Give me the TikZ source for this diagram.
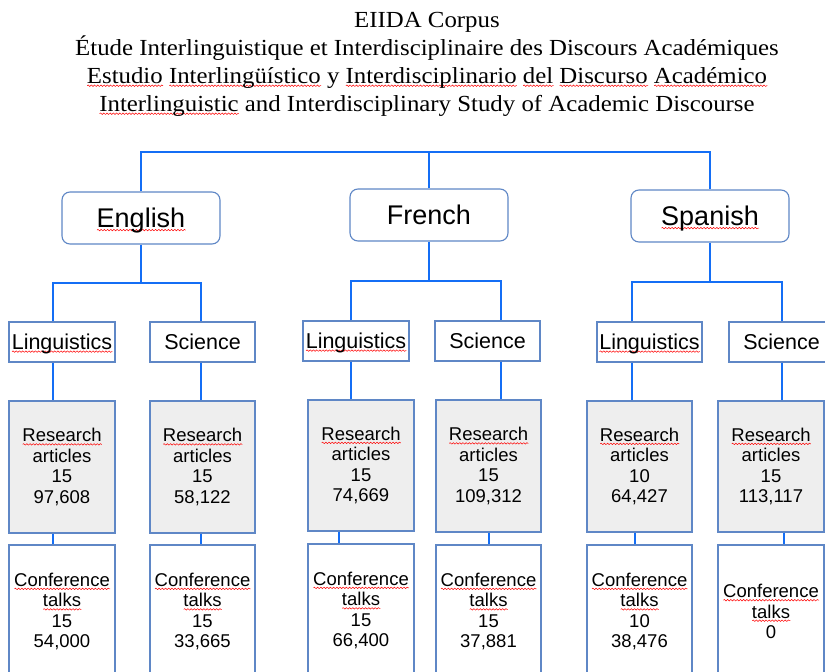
\documentclass[tikz,border=0pt]{standalone}
\usepackage{fontspec}
\usetikzlibrary{decorations.pathmorphing}
\newfontfamily\titlefont{Liberation Serif}[FakeStretch=1.08]
\newfontfamily\arial{Liberation Sans}
\definecolor{bordc}{RGB}{95,135,198}
\definecolor{connc}{RGB}{20,110,245}
\definecolor{resfill}{RGB}{238,238,238}
\newsavebox\sqbox
\newcommand\sq[1]{\sbox\sqbox{#1}\leavevmode\rlap{\smash{\tikz[baseline=0pt]\draw[draw=red, fill=none, rounded corners=0pt, line width=0.5pt, decorate, decoration={snake, amplitude=0.75pt, segment length=3.2pt}] (0pt,-2.6pt) -- (\wd\sqbox,-2.6pt);}}\usebox\sqbox}
\tikzset{
  lang/.style={draw=bordc, line width=1.1pt, rounded corners=8pt, fill=white,
    minimum width=158pt, minimum height=52pt, inner sep=0pt,
    text height=24pt, text depth=5pt,
    font=\arial\fontsize{27}{30}\selectfont},
  field/.style={draw=bordc, line width=1.1pt, fill=white, minimum width=106pt,
    minimum height=40pt, inner sep=0pt, text height=18pt, text depth=4pt,
    font=\arial\fontsize{21.5}{24}\selectfont},
  resbox/.style={draw=bordc, line width=1.1pt, fill=resfill, minimum width=106pt,
    minimum height=132pt, inner sep=0pt, align=center,
    font=\arial\fontsize{18.5}{20.5}\selectfont},
  confbox/.style={draw=bordc, line width=1.1pt, fill=white, minimum width=106pt,
    minimum height=133pt, inner sep=0pt, align=center,
    font=\arial\fontsize{18.5}{20.5}\selectfont},
  conn/.style={draw=connc, line width=2.6pt},
}
\begin{document}
\begin{tikzpicture}[x=1pt,y=-1pt]
\useasboundingbox (0,0) rectangle (825,672);
% title
\node[align=center, inner sep=0pt, font=\titlefont\fontsize{23}{28}\selectfont] (title) at (427,64)
 {EIIDA Corpus\\
  Étude Interlinguistique et Interdisciplinaire des Discours Académiques\\
  \sq{Estudio} \sq{Interlingüístico} y \sq{Interdisciplinario} \sq{del} \sq{Discurso} \sq{Académico}\\
  \sq{Interlinguistic} and Interdisciplinary Study of Academic Discourse};
% languages
\node[lang] (EN) at (141,218) {\sq{English}};
\node[lang] (FR) at (429,215) {French};
\node[lang] (ES) at (710,216) {\sq{Spanish}};
% fields
\node[field] (ENL) at (62,342) {\sq{Linguistics}};
\node[field, minimum width=105pt] (ENS) at (202.5,342) {Science};
\node[field] (FRL) at (356,341) {\sq{Linguistics}};
\node[field, minimum width=105pt] (FRS) at (487.5,341) {Science};
\node[field, minimum width=105pt] (ESL) at (649.5,342) {\sq{Linguistics}};
\node[field, minimum width=105pt] (ESS) at (781.5,342) {Science};
% research articles
\node[resbox] (ENLR) at (62,467) {\sq{Research}\\articles\\15\\97,608};
\node[resbox, minimum width=105pt] (ENSR) at (202.5,467) {\sq{Research}\\articles\\15\\58,122};
\node[resbox, minimum height=131pt] (FRLR) at (361,465.5) {\sq{Research}\\articles\\15\\74,669};
\node[resbox, minimum width=105pt] (FRSR) at (488.5,466) {\sq{Research}\\articles\\15\\109,312};
\node[resbox, minimum width=105pt, minimum height=131pt] (ESLR) at (639.5,466.5) {\sq{Research}\\articles\\10\\64,427};
\node[resbox, minimum height=131pt] (ESSR) at (771,466.5) {\sq{Research}\\articles\\15\\113,117};
% conference talks
\node[confbox] (ENLC) at (62,611.5) {\sq{Conference}\\\sq{talks}\\15\\54,000};
\node[confbox, minimum width=105pt] (ENSC) at (202.5,611.5) {\sq{Conference}\\\sq{talks}\\15\\33,665};
\node[confbox] (FRLC) at (361,610.5) {\sq{Conference}\\\sq{talks}\\15\\66,400};
\node[confbox, minimum width=105pt] (FRSC) at (488.5,611.5) {\sq{Conference}\\\sq{talks}\\15\\37,881};
\node[confbox, minimum width=105pt] (ESLC) at (639.5,611.5) {\sq{Conference}\\\sq{talks}\\10\\38,476};
\node[confbox] (ESSC) at (771,611.5) {\sq{Conference}\\\sq{talks}\\0};
% connectors: top level
\coordinate (top) at (429,152);
\draw[conn] (EN.north) |- (top) -| (ES.north);
\draw[conn] (FR.north) -- (FR.north |- top);
% English
\coordinate (enb) at (141,283);
\draw[conn] (EN.south) -- (enb);
\draw[conn] ([xshift=-9pt]ENL.north) |- (enb) -| ([xshift=-1.5pt]ENS.north);
\draw[conn] ([xshift=-9pt]ENL.south) -- ([xshift=-9pt]ENLR.north);
\draw[conn] ([xshift=-9pt]ENLR.south) -- ([xshift=-9pt]ENLC.north);
\draw[conn] ([xshift=-1.5pt]ENS.south) -- ([xshift=-1.5pt]ENSR.north);
\draw[conn] ([xshift=-1.5pt]ENSR.south) -- ([xshift=-1.5pt]ENSC.north);
% French
\coordinate (frb) at (429,281);
\draw[conn] (FR.south) -- (frb);
\draw[conn] ([xshift=-5pt]FRL.north) |- (frb) -| ([xshift=13.5pt]FRS.north);
\draw[conn] ([xshift=-5pt]FRL.south) -- ([xshift=-10pt]FRLR.north);
\draw[conn] ([xshift=-22pt]FRLR.south) -- ([xshift=-22pt]FRLC.north);
\draw[conn] ([xshift=13.5pt]FRS.south) -- ([xshift=12.5pt]FRSR.north);
\draw[conn] ([xshift=0.5pt]FRSR.south) -- ([xshift=0.5pt]FRSC.north);
% Spanish
\coordinate (esb) at (710,282);
\draw[conn] (ES.south) -- (esb);
\draw[conn] ([xshift=-17.5pt]ESL.north) |- (esb) -| ([xshift=0.5pt]ESS.north);
\draw[conn] ([xshift=-17.5pt]ESL.south) -- ([xshift=-7.5pt]ESLR.north);
\draw[conn] ([xshift=-4.5pt]ESLR.south) -- ([xshift=-4.5pt]ESLC.north);
\draw[conn] ([xshift=0.5pt]ESS.south) -- ([xshift=11pt]ESSR.north);
\draw[conn] ([xshift=13pt]ESSR.south) -- ([xshift=13pt]ESSC.north);
\end{tikzpicture}
\end{document}
